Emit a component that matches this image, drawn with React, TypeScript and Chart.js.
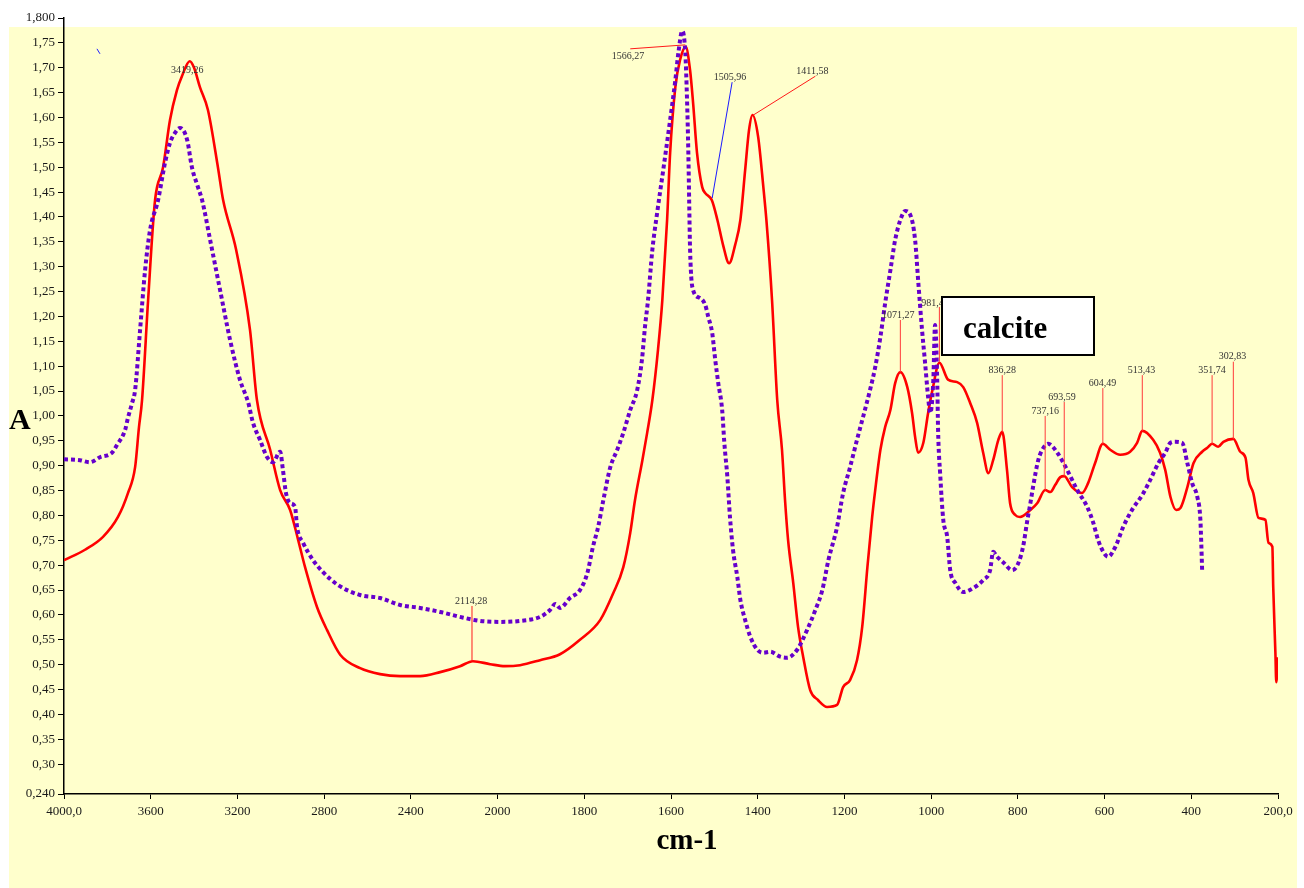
import React, { useEffect, useRef } from "react";
import { Chart, registerables } from "chart.js";

Chart.register(...registerables);

// ---- Spectrum 1 (red, solid): wavenumber (cm-1) and absorbance ----
const redWavenumbers = [
  4000, 3903, 3820, 3751, 3705, 3672, 3654, 3640, 3612, 3580,
  3543, 3511, 3479, 3456, 3420, 3400, 3373, 3336, 3290, 3266,
  3206, 3142, 3110, 3049, 3003, 2957, 2920, 2888, 2833, 2787,
  2726, 2634, 2542, 2450, 2357, 2265, 2173, 2114, 2034, 1983,
  1948, 1902, 1856, 1810, 1763, 1733, 1710, 1694, 1683, 1666,
  1655, 1643, 1630, 1620, 1609, 1602, 1590, 1579, 1566, 1556,
  1549, 1540, 1528, 1521, 1506, 1493, 1480, 1466, 1452, 1440,
  1429, 1420, 1412, 1399, 1387, 1380, 1367, 1355, 1344, 1337,
  1330, 1318, 1307, 1295, 1279, 1261, 1240, 1217, 1203, 1187,
  1171, 1159, 1147, 1136, 1129, 1117, 1106, 1094, 1083, 1071,
  1055, 1044, 1037, 1030, 1018, 1007, 997, 981, 961, 940,
  926, 910, 894, 880, 868, 857, 845, 836, 825, 818,
  806, 795, 771, 755, 737, 725, 714, 702, 693, 675,
  652, 638, 622, 604, 587, 564, 541, 525, 513, 488,
  472, 460, 448, 435, 425, 409, 395, 375, 363, 352,
  338, 326, 303, 287, 275, 268, 257, 245, 229, 222,
  213, 211, 206, 204, 200,
];
const redAbsorbance = [
  0.710, 0.731, 0.757, 0.797, 0.845, 0.897, 0.978, 1.032, 1.233, 1.434,
  1.500, 1.595, 1.655, 1.683, 1.713, 1.700, 1.661, 1.615, 1.500, 1.434,
  1.334, 1.173, 1.032, 0.932, 0.851, 0.811, 0.751, 0.696, 0.616, 0.570,
  0.520, 0.493, 0.481, 0.477, 0.477, 0.485, 0.497, 0.507, 0.501, 0.497,
  0.499, 0.509, 0.521, 0.550, 0.590, 0.644, 0.696, 0.765, 0.831, 0.911,
  0.966, 1.032, 1.133, 1.233, 1.394, 1.529, 1.661, 1.716, 1.742, 1.695,
  1.629, 1.529, 1.460, 1.448, 1.434, 1.394, 1.344, 1.307, 1.344, 1.394,
  1.494, 1.575, 1.605, 1.561, 1.460, 1.394, 1.233, 1.032, 0.932, 0.831,
  0.751, 0.664, 0.576, 0.515, 0.449, 0.429, 0.415, 0.419, 0.455, 0.469,
  0.509, 0.576, 0.696, 0.797, 0.851, 0.932, 0.978, 1.012, 1.066, 1.088,
  1.058, 1.006, 0.958, 0.926, 0.946, 1.006, 1.052, 1.107, 1.073, 1.068,
  1.058, 1.026, 0.986, 0.926, 0.885, 0.911, 0.952, 0.968, 0.891, 0.825,
  0.801, 0.797, 0.811, 0.825, 0.851, 0.847, 0.861, 0.877, 0.879, 0.857,
  0.845, 0.865, 0.905, 0.944, 0.932, 0.922, 0.928, 0.946, 0.970, 0.952,
  0.926, 0.891, 0.837, 0.811, 0.815, 0.857, 0.905, 0.928, 0.936, 0.944,
  0.938, 0.948, 0.954, 0.928, 0.916, 0.871, 0.845, 0.795, 0.791, 0.745,
  0.737, 0.656, 0.524, 0.465, 0.515,
];

// ---- Spectrum 2 (purple, dotted): wavenumber (cm-1) and absorbance ----
const purpleWavenumbers = [
  4000, 3926, 3880, 3834, 3779, 3755, 3718, 3705, 3686, 3672,
  3649, 3626, 3603, 3566, 3534, 3511, 3488, 3465, 3432, 3410,
  3382, 3363, 3326, 3280, 3234, 3188, 3151, 3128, 3096, 3063,
  3036, 3003, 2990, 2976, 2957, 2934, 2925, 2897, 2851, 2805,
  2736, 2634, 2542, 2450, 2357, 2265, 2173, 2081, 1994, 1948,
  1902, 1879, 1867, 1856, 1833, 1810, 1793, 1780, 1768, 1756,
  1740, 1724, 1710, 1694, 1678, 1667, 1660, 1653, 1643, 1632,
  1618, 1602, 1590, 1583, 1574, 1567, 1563, 1560, 1558, 1556,
  1549, 1533, 1521, 1514, 1505, 1498, 1491, 1482, 1477, 1470,
  1464, 1457, 1447, 1440, 1429, 1417, 1401, 1387, 1371, 1348,
  1332, 1309, 1286, 1267, 1251, 1237, 1217, 1203, 1187, 1171,
  1157, 1141, 1129, 1117, 1106, 1094, 1083, 1071, 1060, 1048,
  1037, 1030, 1021, 1014, 1007, 1002, 995, 991, 986, 984,
  979, 972, 963, 956, 944, 926, 903, 880, 864, 857,
  848, 834, 813, 799, 788, 778, 771, 765, 753, 741,
  730, 709, 686, 663, 640, 626, 615, 603, 592, 575,
  557, 534, 513, 495, 476, 460, 448, 437, 421, 409,
  398, 386, 379, 377, 375,
];
const purpleAbsorbance = [
  0.913, 0.911, 0.907, 0.917, 0.926, 0.942, 0.972, 0.996, 1.026, 1.052,
  1.173, 1.293, 1.374, 1.434, 1.509, 1.549, 1.569, 1.579, 1.555, 1.500,
  1.460, 1.434, 1.354, 1.253, 1.153, 1.072, 1.028, 0.986, 0.952, 0.917,
  0.907, 0.928, 0.891, 0.845, 0.825, 0.817, 0.777, 0.745, 0.710, 0.686,
  0.660, 0.640, 0.634, 0.620, 0.614, 0.606, 0.596, 0.588, 0.586, 0.588,
  0.596, 0.610, 0.622, 0.614, 0.634, 0.650, 0.684, 0.737, 0.777, 0.831,
  0.897, 0.932, 0.966, 1.012, 1.052, 1.113, 1.179, 1.233, 1.334, 1.408,
  1.494, 1.595, 1.675, 1.730, 1.774, 1.730, 1.635, 1.529, 1.428, 1.334,
  1.253, 1.237, 1.223, 1.199, 1.167, 1.113, 1.066, 1.012, 0.946, 0.877,
  0.797, 0.731, 0.676, 0.630, 0.590, 0.556, 0.530, 0.524, 0.526, 0.516,
  0.514, 0.530, 0.570, 0.610, 0.650, 0.710, 0.777, 0.845, 0.897, 0.952,
  0.998, 1.052, 1.098, 1.159, 1.227, 1.293, 1.354, 1.394, 1.412, 1.404,
  1.354, 1.273, 1.173, 1.107, 1.038, 1.006, 1.072, 1.183, 1.072, 0.972,
  0.881, 0.791, 0.757, 0.690, 0.664, 0.646, 0.654, 0.670, 0.690, 0.727,
  0.717, 0.706, 0.690, 0.704, 0.737, 0.791, 0.825, 0.857, 0.911, 0.936,
  0.944, 0.926, 0.891, 0.851, 0.817, 0.785, 0.751, 0.727, 0.717, 0.737,
  0.777, 0.815, 0.841, 0.871, 0.905, 0.926, 0.946, 0.948, 0.946, 0.905,
  0.865, 0.837, 0.791, 0.745, 0.690,
];

// ---- Axes ----
const xTickLabels = [
  "4000,0", "3600", "3200", "2800", "2400", "2000", "1800", "1600",
  "1400", "1200", "1000", "800", "600", "400", "200,0",
];
const yTickValues = [
  0.24, 0.30, 0.35, 0.40, 0.45, 0.50, 0.55, 0.60, 0.65, 0.70, 0.75, 0.80,
  0.85, 0.90, 0.95, 1.00, 1.05, 1.10, 1.15, 1.20, 1.25, 1.30, 1.35, 1.40,
  1.45, 1.50, 1.55, 1.60, 1.65, 1.70, 1.75, 1.80,
];
const yAxisTitle = "A";
const xAxisTitle = "cm-1";

// ---- Peak annotations (text anchor and leader line, in cm-1 / absorbance) ----
const peakLabels = [
  "3419,26", "1566,27", "1505,96", "1411,58", "2114,28", "1071,27", "981,47",
  "836,28", "737,16", "693,59", "604,49", "513,43", "351,74", "302,83", "",
];
const peakTextW = [3432, 1699, 1464, 1274, 2122, 1076, 991, 836, 737, 698, 605, 515, 352, 305, 0];
const peakTextA = [1.695, 1.722, 1.681, 1.693, 0.628, 1.203, 1.227, 1.092, 1.010, 1.038, 1.066, 1.092, 1.092, 1.119, 0];
const peakLineW1 = [0, 1694, 1459, 1267, 2118, 1071, 981, 836, 737, 693, 604, 513, 352, 303, 3848];
const peakLineA1 = [0, 1.738, 1.671, 1.683, 0.618, 1.193, 1.219, 1.082, 1.000, 1.028, 1.056, 1.082, 1.082, 1.109, 1.738];
const peakLineW2 = [0, 1567, 1505, 1410, 2118, 1071, 981, 836, 737, 693, 604, 513, 352, 303, 3834];
const peakLineA2 = [0, 1.746, 1.438, 1.605, 0.507, 1.088, 1.109, 0.968, 0.851, 0.879, 0.944, 0.970, 0.944, 0.954, 1.728];
const peakLineColors = [
  "", "#ff1a1a", "#1a1aff", "#ff1a1a", "#ff1a1a", "#ff3a3a", "#ff3a3a",
  "#ff3a3a", "#ff3a3a", "#ff3a3a", "#ff3a3a", "#ff3a3a", "#ff3a3a", "#ff3a3a", "#2020ff",
];

// ---- Text box ----
const calloutText = "calcite";
const calloutFromW = 974;
const calloutToW = 624;
const calloutTopA = 1.239;
const calloutBottomA = 1.123;

// piecewise wavenumber axis: 400 cm-1 per division above 2000, 200 below
function toAxis(w: number): number {
  return w >= 2000 ? (4000 - w) / 400 : 5 + (2000 - w) / 200;
}

const SERIF = "'Liberation Serif', 'Times New Roman', serif";

const decorPlugin = {
  id: "decor",
  beforeDraw(chart: any) {
    const ctx = chart.ctx;
    ctx.save();
    ctx.fillStyle = "#ffffff";
    ctx.fillRect(0, 0, chart.width, chart.height);
    ctx.fillStyle = "#ffffcc";
    ctx.fillRect(9, 27, 1288, 861);
    ctx.restore();
  },
  afterDatasetsDraw(chart: any) {
    const ctx = chart.ctx;
    const xs = chart.scales.x;
    const ys = chart.scales.y;
    ctx.save();
    for (let i = 0; i < peakLabels.length; i++) {
      if (peakLineColors[i]) {
        ctx.strokeStyle = peakLineColors[i];
        ctx.lineWidth = 1;
        ctx.beginPath();
        ctx.moveTo(xs.getPixelForValue(toAxis(peakLineW1[i])), ys.getPixelForValue(peakLineA1[i]));
        ctx.lineTo(xs.getPixelForValue(toAxis(peakLineW2[i])), ys.getPixelForValue(peakLineA2[i]));
        ctx.stroke();
      }
      if (peakLabels[i]) {
        ctx.fillStyle = "#333333";
        ctx.font = `10px ${SERIF}`;
        ctx.textAlign = "center";
        ctx.textBaseline = "middle";
        ctx.fillText(peakLabels[i], xs.getPixelForValue(toAxis(peakTextW[i])), ys.getPixelForValue(peakTextA[i]));
      }
    }
    // callout box
    const l = Math.round(xs.getPixelForValue(toAxis(calloutFromW)));
    const r = Math.round(xs.getPixelForValue(toAxis(calloutToW)));
    const t = Math.round(ys.getPixelForValue(calloutTopA));
    const b = Math.round(ys.getPixelForValue(calloutBottomA));
    ctx.fillStyle = "#ffffff";
    ctx.fillRect(l, t, r - l, b - t);
    ctx.strokeStyle = "#000000";
    ctx.lineWidth = 2;
    ctx.strokeRect(l, t, r - l, b - t);
    ctx.fillStyle = "#000000";
    ctx.font = `bold 31px ${SERIF}`;
    ctx.textAlign = "left";
    ctx.textBaseline = "alphabetic";
    ctx.fillText(calloutText, l + 21, t + 41);
    ctx.restore();
  },
  afterDraw(chart: any) {
    const ctx = chart.ctx;
    const area = chart.chartArea;
    ctx.save();
    ctx.fillStyle = "#000000";
    ctx.font = `bold 30px ${SERIF}`;
    ctx.textAlign = "left";
    ctx.textBaseline = "alphabetic";
    ctx.fillText(yAxisTitle, 9, 429);
    ctx.font = `bold 29px ${SERIF}`;
    ctx.textAlign = "center";
    ctx.fillText(xAxisTitle, (area.left + area.right) / 2 + 16, 849);
    ctx.restore();
  },
};

export default function App() {
  const canvasRef = useRef<HTMLCanvasElement | null>(null);

  useEffect(() => {
    document.body.style.margin = "0";
    const canvas = canvasRef.current;
    if (!canvas) return;

    const redData = redWavenumbers.map((w, i) => ({ x: toAxis(w), y: redAbsorbance[i] }));
    const purpleData = purpleWavenumbers.map((w, i) => ({ x: toAxis(w), y: purpleAbsorbance[i] }));

    const chart = new Chart(canvas, {
      type: "line",
      data: {
        datasets: [
          {
            label: "spectrum 2",
            data: purpleData,
            borderColor: "#6600cc",
            borderWidth: 4,
            borderDash: [4, 3],
            borderCapStyle: "butt",
            pointRadius: 0,
            fill: false,
            cubicInterpolationMode: "monotone",
            order: 0,
          },
          {
            label: "spectrum 1",
            data: redData,
            borderColor: "#ff0000",
            borderWidth: 2.6,
            pointRadius: 0,
            fill: false,
            cubicInterpolationMode: "monotone",
            order: 1,
          },
        ],
      },
      options: {
        animation: false,
        responsive: false,
        devicePixelRatio: 1,
        layout: { padding: { left: 0, top: 18, right: 26, bottom: 0 } },
        plugins: {
          legend: { display: false },
          tooltip: { enabled: false },
        },
        scales: {
          x: {
            type: "linear",
            min: 0,
            max: 14,
            afterFit: (s: any) => {
              s.height = 94;
            },
            afterBuildTicks: (s: any) => {
              s.ticks = xTickLabels.map((_, i) => ({ value: i }));
            },
            ticks: {
              autoSkip: false,
              maxRotation: 0,
              padding: 5,
              color: "#1a1a1a",
              font: { family: SERIF, size: 13 },
              callback: (v: any) => xTickLabels[Math.round(v)] ?? "",
            },
            grid: {
              drawOnChartArea: false,
              drawTicks: true,
              tickLength: 5,
              color: "#000000",
              tickColor: "#000000",
            },
            border: { display: true, color: "#000000", width: 1.5 },
          },
          y: {
            type: "linear",
            min: 0.24,
            max: 1.8,
            afterFit: (s: any) => {
              s.width = 64;
            },
            afterBuildTicks: (s: any) => {
              s.ticks = yTickValues.map((v) => ({ value: v }));
            },
            ticks: {
              autoSkip: false,
              padding: 3,
              color: "#1a1a1a",
              font: { family: SERIF, size: 13 },
              callback: (v: any) => {
                const n = Number(v);
                if (Math.abs(n - 0.24) < 1e-6 || Math.abs(n - 1.8) < 1e-6) {
                  return n.toFixed(3).replace(".", ",");
                }
                return n.toFixed(2).replace(".", ",");
              },
            },
            grid: {
              drawOnChartArea: false,
              drawTicks: true,
              tickLength: 6,
              color: "#000000",
              tickColor: "#000000",
            },
            border: { display: true, color: "#000000", width: 1.5 },
          },
        },
      },
      plugins: [decorPlugin],
    } as any);

    return () => {
      chart.destroy();
    };
  }, []);

  return (
    <div style={{ width: 1304, height: 888 }}>
      <canvas ref={canvasRef} width={1304} height={888} style={{ display: "block" }} />
    </div>
  );
}
